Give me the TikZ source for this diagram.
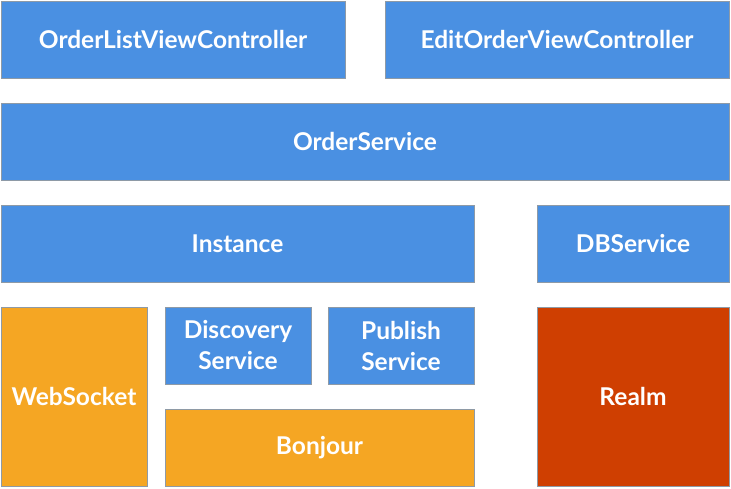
\documentclass[tikz,border=0pt]{standalone}
\usepackage{fontspec}
\setmainfont{Lato}
\usepackage{tikz}
\definecolor{skyblue}{HTML}{4A90E2}
\definecolor{amber}{HTML}{F5A623}
\definecolor{rust}{HTML}{CF3F01}
\definecolor{edge}{HTML}{8E9AA6}
\begin{document}
\begin{tikzpicture}[x=1pt,y=-1pt]
\tikzstyle{every node}+=[inner sep=0pt]
\tikzstyle{layer}=[draw=edge, line width=0.9pt, text=white, font=\fontsize{24.5}{31}\selectfont\bfseries, align=center]
\useasboundingbox (0,0) rectangle (731,488);
% top row
\node [layer, fill=skyblue, minimum width=344pt, minimum height=77pt] (olvc) at (173,39.5) {OrderListViewController};
\node [layer, fill=skyblue, minimum width=344pt, minimum height=77pt] (eovc) at (557,39.5) {EditOrderViewController};
\node [layer, fill=skyblue, minimum width=728pt, minimum height=77pt] (osvc) at (365,141.5) {OrderService};
% services
\node [layer, fill=skyblue, minimum width=473pt, minimum height=77pt] (inst) at (237.5,243.5) {Instance};
\node [layer, fill=skyblue, minimum width=192pt, minimum height=77pt] (dbsv) at (633,243.5) {DBService};
% bottom row
\node [layer, fill=amber, minimum width=146pt, minimum height=179pt] (wsck) at (74,396.5) {WebSocket};
\node [layer, fill=skyblue, minimum width=146pt, minimum height=77pt] (disc) at (238,345.5) {Discovery\\Service};
\node [layer, fill=skyblue, minimum width=146pt, minimum height=77pt] (publ) at (401,345.5) {Publish\\Service};
\node [layer, fill=amber, minimum width=309pt, minimum height=77pt] (bnjr) at (319.5,447.5) {Bonjour};
\node [layer, fill=rust, minimum width=192pt, minimum height=179pt] (relm) at (633,396.5) {Realm};
\end{tikzpicture}
\end{document}
